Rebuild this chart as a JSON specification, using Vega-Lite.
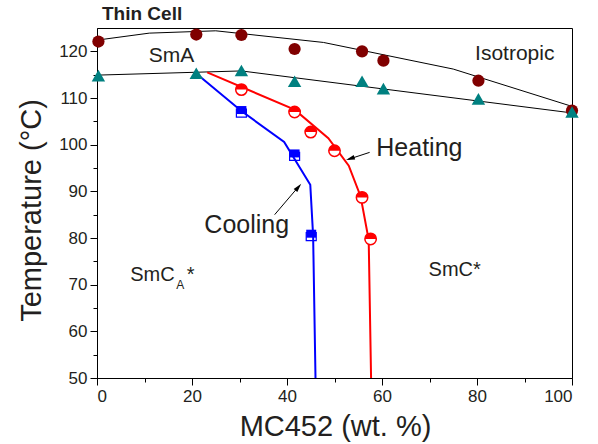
{
  "$schema": "https://vega.github.io/schema/vega-lite/v6.json",
  "width": 475,
  "height": 350,
  "autosize": "none",
  "padding": {"left": 97, "top": 28, "right": 26, "bottom": 66},
  "background": "white",
  "config": {
    "view": {"stroke": "black", "strokeWidth": 1},
    "font": "Liberation Sans",
    "axis": {
      "grid": false,
      "domainColor": "black",
      "tickColor": "black",
      "labelColor": "#231f20",
      "titleColor": "#231f20",
      "labelFont": "Liberation Sans",
      "titleFont": "Liberation Sans",
      "labelFontSize": 17,
      "titleFontSize": 29,
      "titleFontWeight": "normal"
    }
  },
  "datasets": {
    "iso": [
      {"x": 0.3, "T": 122.1}, {"x": 20.9, "T": 123.6}, {"x": 30.4, "T": 123.5},
      {"x": 41.6, "T": 120.5}, {"x": 55.8, "T": 120.0}, {"x": 60.3, "T": 118.0},
      {"x": 80.3, "T": 113.7}, {"x": 100, "T": 107.3}
    ],
    "smc": [
      {"x": 0.3, "T": 114.8}, {"x": 20.9, "T": 115.3}, {"x": 30.4, "T": 115.9},
      {"x": 41.6, "T": 113.6}, {"x": 55.8, "T": 113.6}, {"x": 60.3, "T": 112.0},
      {"x": 80.3, "T": 109.8}, {"x": 100, "T": 107.0}
    ],
    "isoLine": [
      {"x": 0, "T": 122.4}, {"x": 11, "T": 123.9}, {"x": 25, "T": 124.4},
      {"x": 47.7, "T": 121.9}, {"x": 75, "T": 116.2}, {"x": 100, "T": 108.2}
    ],
    "smcLine": [
      {"x": 0, "T": 114.9}, {"x": 30.4, "T": 115.8}, {"x": 100, "T": 106.8}
    ],
    "heatLine": [
      {"x": 23.2, "T": 115.5}, {"x": 41.6, "T": 107.5}, {"x": 48.7, "T": 101.4},
      {"x": 53.0, "T": 95.5}, {"x": 55.5, "T": 88.9}, {"x": 57.2, "T": 79.6},
      {"x": 57.7, "T": 50}
    ],
    "coolLine": [
      {"x": 21.4, "T": 114.8}, {"x": 30.4, "T": 107.2}, {"x": 39.4, "T": 100.6},
      {"x": 44.9, "T": 91.4}, {"x": 45.5, "T": 80.5}, {"x": 46.0, "T": 50}
    ],
    "heat": [
      {"x": 30.4, "T": 111.8}, {"x": 41.6, "T": 107.0}, {"x": 45.0, "T": 102.7},
      {"x": 50.0, "T": 98.7}, {"x": 55.8, "T": 88.7}, {"x": 57.6, "T": 79.8}
    ],
    "cool": [
      {"x": 30.4, "T": 107.1}, {"x": 41.6, "T": 97.8}, {"x": 45.1, "T": 80.6}
    ]
  },
  "layer": [
    {
      "data": {"values": [{"x": 0, "T": 50}]},
      "mark": {"type": "point", "opacity": 0},
      "encoding": {
        "x": {"field": "x", "type": "quantitative", "scale": {"domain": [0, 100], "nice": false},
              "axis": {"orient": "bottom", "values": [10, 30, 50, 70, 90], "labels": false, "tickSize": 4, "domain": false, "title": null}},
        "y": {"field": "T", "type": "quantitative", "scale": {"domain": [50, 125], "nice": false, "zero": false},
              "axis": {"orient": "left", "values": [55, 65, 75, 85, 95, 105, 115], "labels": false, "tickSize": 4, "domain": false, "title": null}}
      }
    },
    {
      "data": {"name": "isoLine"},
      "mark": {"type": "line", "color": "black", "strokeWidth": 1},
      "encoding": {
        "x": {"field": "x", "type": "quantitative",
              "axis": {"orient": "bottom", "values": [0, 20, 40, 60, 80, 100], "tickSize": 7, "labelPadding": 3,
                       "title": "MC452 (wt. %)", "titleX": 238, "titleY": 57, "titleBaseline": "alphabetic"}},
        "y": {"field": "T", "type": "quantitative",
              "axis": {"orient": "left", "values": [50, 60, 70, 80, 90, 100, 110, 120], "tickSize": 7, "labelPadding": 3,
                       "title": "Temperature (°C)", "titleX": -57, "titleY": 182, "titleBaseline": "alphabetic"}}
      }
    },
    {
      "data": {"name": "smcLine"},
      "mark": {"type": "line", "color": "black", "strokeWidth": 1},
      "encoding": {"x": {"field": "x", "type": "quantitative", "axis": null}, "y": {"field": "T", "type": "quantitative", "axis": null}}
    },
    {
      "data": {"name": "heatLine"},
      "mark": {"type": "line", "color": "#ff0000", "strokeWidth": 2},
      "encoding": {"x": {"field": "x", "type": "quantitative", "axis": null}, "y": {"field": "T", "type": "quantitative", "axis": null}}
    },
    {
      "data": {"name": "coolLine"},
      "mark": {"type": "line", "color": "#0000ff", "strokeWidth": 2},
      "encoding": {"x": {"field": "x", "type": "quantitative", "axis": null}, "y": {"field": "T", "type": "quantitative", "axis": null}}
    },
    {
      "data": {"name": "iso"},
      "mark": {"type": "point", "shape": "circle", "filled": true, "color": "#800000", "size": 150, "opacity": 1},
      "encoding": {"x": {"field": "x", "type": "quantitative", "axis": null}, "y": {"field": "T", "type": "quantitative", "axis": null}}
    },
    {
      "data": {"name": "smc"},
      "mark": {"type": "point", "shape": "triangle-up", "filled": true, "color": "#008080", "size": 180, "opacity": 1},
      "encoding": {"x": {"field": "x", "type": "quantitative", "axis": null}, "y": {"field": "T", "type": "quantitative", "axis": null}}
    },
    {
      "data": {"name": "heat"},
      "mark": {"type": "point", "shape": "circle", "fill": "white", "stroke": "#ff0000", "strokeWidth": 1.5, "size": 130, "opacity": 1, "fillOpacity": 1},
      "encoding": {"x": {"field": "x", "type": "quantitative", "axis": null}, "y": {"field": "T", "type": "quantitative", "axis": null}}
    },
    {
      "data": {"name": "heat"},
      "mark": {"type": "point", "shape": "M-1,0A1,1,0,0,1,1,0Z", "filled": true, "color": "#ff0000", "size": 130, "opacity": 1},
      "encoding": {"x": {"field": "x", "type": "quantitative", "axis": null}, "y": {"field": "T", "type": "quantitative", "axis": null}}
    },
    {
      "data": {"name": "cool"},
      "mark": {"type": "point", "shape": "M-1,-0.5L1,-0.5L1,1.1L-1,1.1Z", "filled": false, "stroke": "#0000ff", "strokeWidth": 1.2, "size": 100, "opacity": 1},
      "encoding": {"x": {"field": "x", "type": "quantitative", "axis": null}, "y": {"field": "T", "type": "quantitative", "axis": null}}
    },
    {
      "data": {"name": "cool"},
      "mark": {"type": "point", "shape": "M-1,-1.1L1,-1.1L1,0.5L-1,0.5Z", "filled": true, "color": "#0000ff", "size": 100, "opacity": 1},
      "encoding": {"x": {"field": "x", "type": "quantitative", "axis": null}, "y": {"field": "T", "type": "quantitative", "axis": null}}
    },
    {
      "data": {"values": [{"x": 57.4, "T": 98.35, "x2": 52.9, "T2": 96.85}, {"x": 37.4, "T": 85.0, "x2": 42.6, "T2": 91.2}]},
      "mark": {"type": "rule", "color": "black", "strokeWidth": 1},
      "encoding": {"x": {"field": "x", "type": "quantitative", "axis": null}, "y": {"field": "T", "type": "quantitative", "axis": null},
                   "x2": {"field": "x2"}, "y2": {"field": "T2"}}
    },
    {
      "data": {"values": [{"x": 52.44, "T": 96.7}]},
      "mark": {"type": "point", "shape": "M0,0L-0.6,2.2L0.6,2.2Z", "filled": true, "color": "black", "size": 64, "opacity": 1, "angle": 251.7},
      "encoding": {"x": {"field": "x", "type": "quantitative", "axis": null}, "y": {"field": "T", "type": "quantitative", "axis": null}}
    },
    {
      "data": {"values": [{"x": 43.0, "T": 91.6}]},
      "mark": {"type": "point", "shape": "M0,0L-0.6,2.2L0.6,2.2Z", "filled": true, "color": "black", "size": 64, "opacity": 1, "angle": 41},
      "encoding": {"x": {"field": "x", "type": "quantitative", "axis": null}, "y": {"field": "T", "type": "quantitative", "axis": null}}
    },
    {
      "data": {"values": [{"x": 1.05, "T": 126.8, "label": "Thin Cell"}]},
      "mark": {"type": "text", "align": "left", "baseline": "alphabetic", "fontSize": 19, "fontWeight": "bold", "color": "#231f20"},
      "encoding": {"x": {"field": "x", "type": "quantitative", "axis": null}, "y": {"field": "T", "type": "quantitative", "axis": null}, "text": {"field": "label"}}
    },
    {
      "data": {"values": [{"x": 10.9, "T": 117.7, "label": "SmA"}, {"x": 79.6, "T": 118.06, "label": "Isotropic"}]},
      "mark": {"type": "text", "align": "left", "baseline": "alphabetic", "fontSize": 21, "color": "#231f20"},
      "encoding": {"x": {"field": "x", "type": "quantitative", "axis": null}, "y": {"field": "T", "type": "quantitative", "axis": null}, "text": {"field": "label"}}
    },
    {
      "data": {"values": [{"x": 58.8, "T": 97.6, "label": "Heating"}, {"x": 22.6, "T": 81.07, "label": "Cooling"}]},
      "mark": {"type": "text", "align": "left", "baseline": "alphabetic", "fontSize": 25, "color": "#231f20"},
      "encoding": {"x": {"field": "x", "type": "quantitative", "axis": null}, "y": {"field": "T", "type": "quantitative", "axis": null}, "text": {"field": "label"}}
    },
    {
      "data": {"values": [{"x": 7.0, "T": 70.85, "label": "SmC"}, {"x": 18.9, "T": 70.85, "label": "*"}, {"x": 69.8, "T": 71.8, "label": "SmC*"}]},
      "mark": {"type": "text", "align": "left", "baseline": "alphabetic", "fontSize": 20, "color": "#231f20"},
      "encoding": {"x": {"field": "x", "type": "quantitative", "axis": null}, "y": {"field": "T", "type": "quantitative", "axis": null}, "text": {"field": "label"}}
    },
    {
      "data": {"values": [{"x": 16.7, "T": 69.1, "label": "A"}]},
      "mark": {"type": "text", "align": "left", "baseline": "alphabetic", "fontSize": 12, "color": "#231f20"},
      "encoding": {"x": {"field": "x", "type": "quantitative", "axis": null}, "y": {"field": "T", "type": "quantitative", "axis": null}, "text": {"field": "label"}}
    }
  ],
  "resolve": {"axis": {"x": "independent", "y": "independent"}}
}
